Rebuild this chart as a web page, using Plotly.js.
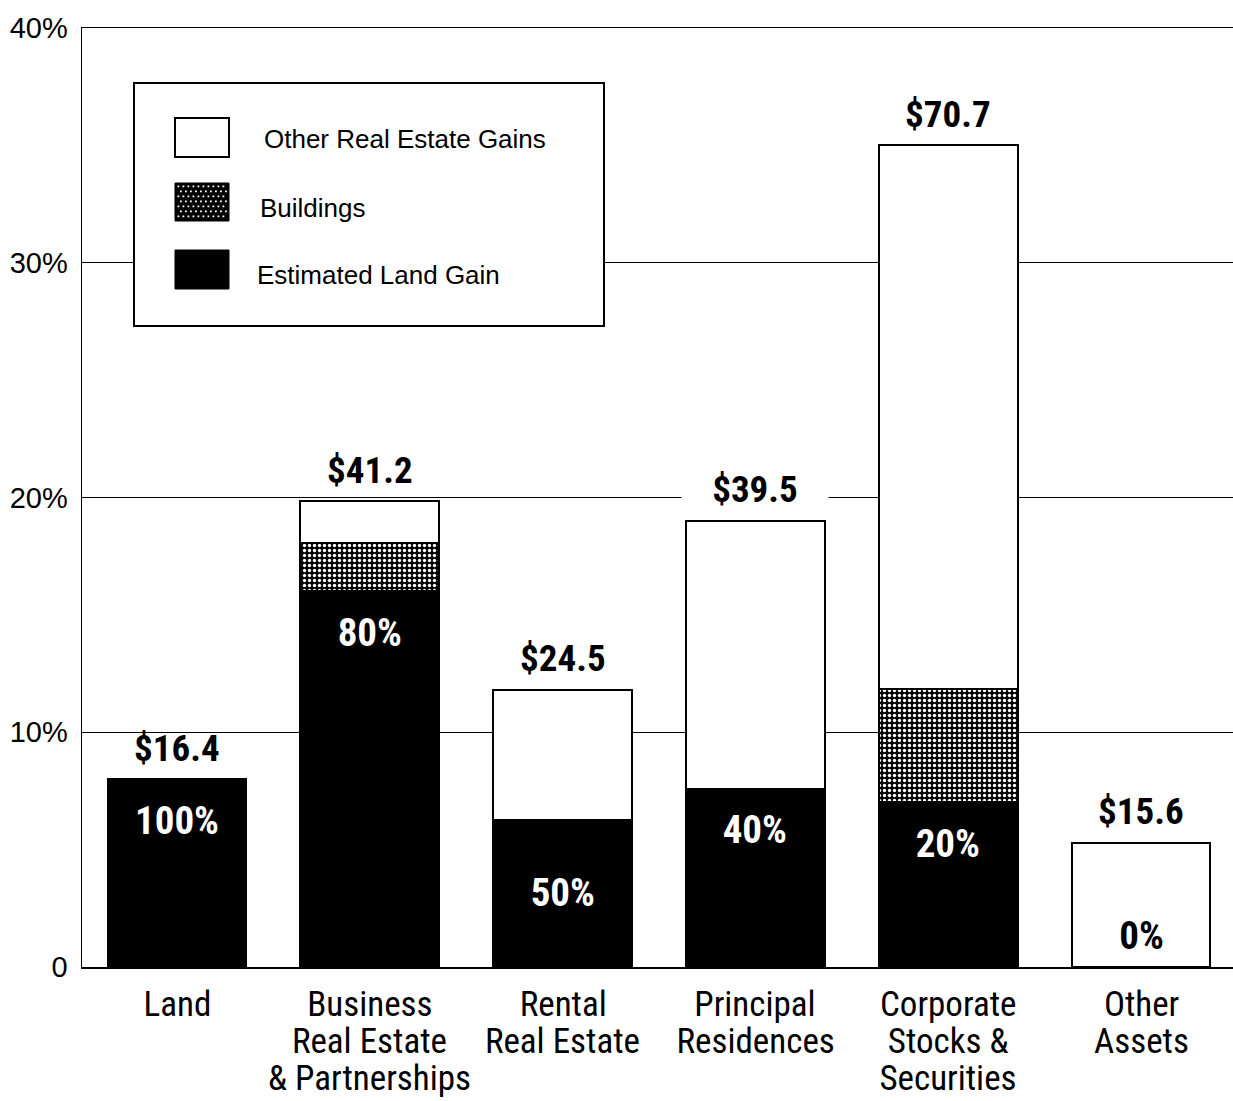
<!DOCTYPE html>
<html>
<head>
<meta charset="utf-8">
<script src="https://cdn.plot.ly/plotly-3.0.1.min.js"></script>
<style>
html,body{margin:0;padding:0;background:#fff;}
/* Condensed face (Helvetica Condensed look) for the Roboto texts */
#chart text[style*="Roboto"]{font-stretch:condensed;}
</style>
</head>
<body>
<div id="chart" style="width:1233px;height:1101px;"></div>
<script>
// ---------------- DATA ----------------
const categories = ["Land", "Business<br>Real Estate<br>& Partnerships", "Rental<br>Real Estate",
                    "Principal<br>Residences", "Corporate<br>Stocks &<br>Securities", "Other<br>Assets"];
const landGain   = [8.0, 16.0, 6.25, 7.6, 7.05, 0];     // % (Estimated Land Gain)
const buildings  = [0, 2.05, 0, 0, 4.8, 0];             // % (Buildings)
const otherGains = [0, 1.8, 5.55, 11.4, 23.15, 5.3];    // % (Other Real Estate Gains / other)
const dollarLabels = ["$16.4", "$41.2", "$24.5", "$39.5", "$70.7", "$15.6"];
const landShareLabels = ["100%", "80%", "50%", "40%", "20%", "0%"];
const yTickVals = [0, 10, 20, 30, 40];
const yTickText = ["0", "10%", "20%", "30%", "40%"];
const seriesNames = ["Other Real Estate Gains", "Buildings", "Estimated Land Gain"];

// ---------------- LAYOUT HELPERS ----------------
const W = 1233, H = 1101, ML = 82, MT = 28, MB = 134, MR = 0;
const plotW = W - ML - MR, plotH = H - MT - MB;
const px = x => (x - ML) / plotW;
const py = y => (H - MB - y) / plotH;
const pxPerUnit = plotH / 40;

const condensed = "Roboto, Liberation Sans, sans-serif";
const regular = "Liberation Sans, Arial, Helvetica, sans-serif";

const totals = categories.map((c, i) => landGain[i] + buildings[i] + otherGains[i]);
const lineStyle = {color: "black", width: 2};

const traces = [
  {type: "bar", name: seriesNames[2], x: categories, y: landGain, width: 0.72,
   marker: {color: "black", line: lineStyle}, hoverinfo: "skip"},
  {type: "bar", name: seriesNames[1], x: categories, y: buildings, width: 0.72,
   marker: {color: "black", line: lineStyle,
            pattern: {shape: ".", fgcolor: "white", bgcolor: "black", size: 5, solidity: 0.35, fillmode: "replace"}},
   hoverinfo: "skip"},
  {type: "bar", name: seriesNames[0], x: categories, y: otherGains, width: 0.72,
   marker: {color: "white", line: lineStyle}, hoverinfo: "skip"}
];

const annotations = [];
// dollar totals above bars (knock out the gridline only where the label crosses one)
const dollarShift = 31;
categories.forEach((c, i) => {
  const centerPx = totals[i] * pxPerUnit + dollarShift;
  const crosses = yTickVals.some(v => Math.abs(v * pxPerUnit - centerPx) < 14);
  annotations.push({x: c, y: totals[i], xref: "x", yref: "y", yshift: dollarShift, yanchor: "middle",
    text: dollarLabels[i], showarrow: false,
    bgcolor: crosses ? "white" : "rgba(0,0,0,0)", borderpad: 3, width: crosses ? 140 : null,
    font: {family: condensed, size: 37, weight: 700, color: "black"}});
});
// land share labels
const pctShift = [-42, -42, -73, -41, -42, 31];
categories.forEach((c, i) => {
  annotations.push({x: c, y: landGain[i], xref: "x", yref: "y", yshift: pctShift[i], yanchor: "middle",
    text: landShareLabels[i], showarrow: false,
    font: {family: condensed, size: 39, weight: 700, color: landGain[i] > 0 ? "white" : "black"}});
});
// category labels (line by line)
categories.forEach((c, i) => {
  c.split("<br>").forEach((line, k) => {
    annotations.push({x: c, xref: "x", yref: "paper", y: py(1004 + 37 * k), yanchor: "middle",
      text: line, showarrow: false, font: {family: condensed, size: 35, color: "black"}});
  });
});
// legend texts
const legendTextPos = [[262, 139], [258, 208], [255, 275]];
seriesNames.forEach((n, k) => {
  annotations.push({xref: "paper", yref: "paper", x: px(legendTextPos[k][0]), y: py(legendTextPos[k][1]),
    xanchor: "left", yanchor: "middle", text: n, showarrow: false,
    font: {family: regular, size: 26, color: "black"}});
});

// legend box & swatches
const shapes = [
  {type: "rect", xref: "paper", yref: "paper", x0: px(134), x1: px(604), y0: py(326), y1: py(83),
   line: {color: "black", width: 2}, fillcolor: "white", layer: "above"},
  {type: "rect", xref: "paper", yref: "paper", x0: px(175), x1: px(229), y0: py(157), y1: py(118),
   line: {color: "black", width: 2}, fillcolor: "white", layer: "above"},
  {type: "rect", xref: "paper", yref: "paper", x0: px(175), x1: px(229), y0: py(221), y1: py(183),
   line: {color: "black", width: 1}, fillcolor: "black", layer: "above"},
  {type: "rect", xref: "paper", yref: "paper", x0: px(175), x1: px(229), y0: py(289), y1: py(250),
   line: {color: "black", width: 1}, fillcolor: "black", layer: "above"}
];
// stipple dots for the Buildings swatch (staggered grid, like the bar pattern)
let dotPath = "";
for (let r = 0; r < 8; r++) {
  for (let c = 0; c < 11; c++) {
    const x = 177.5 + c * 5 + (r % 2) * 2.5, y = 185.5 + r * 5;
    if (x > 226 || y > 219) continue;
    dotPath += `M${px(x)},${py(y)}L${px(x + 1.8)},${py(y)}L${px(x + 1.8)},${py(y + 1.8)}L${px(x)},${py(y + 1.8)}Z`;
  }
}
shapes.push({type: "path", xref: "paper", yref: "paper", path: dotPath,
  line: {width: 0}, fillcolor: "white", layer: "above"});

const layout = {
  width: W, height: H,
  margin: {l: ML, r: MR, t: MT, b: MB, pad: 0},
  paper_bgcolor: "white", plot_bgcolor: "white",
  barmode: "stack", bargap: 0.28, showlegend: false,
  xaxis: {type: "category", range: [-0.493, 5.477], showticklabels: false, ticks: "",
          showline: true, linecolor: "black", linewidth: 1.5, mirror: true, showgrid: false,
          zeroline: false, fixedrange: true},
  yaxis: {range: [0, 40], tickvals: yTickVals, ticktext: yTickText, ticks: "", ticklabelstandoff: 7,
          showline: true, linecolor: "black", linewidth: 1.5, showgrid: true, gridcolor: "black",
          gridwidth: 1, zeroline: false, fixedrange: true,
          tickfont: {family: regular, size: 29, color: "black"}},
  annotations: annotations,
  shapes: shapes
};

Plotly.newPlot("chart", traces, layout, {displayModeBar: false, staticPlot: true});
</script>
</body>
</html>
